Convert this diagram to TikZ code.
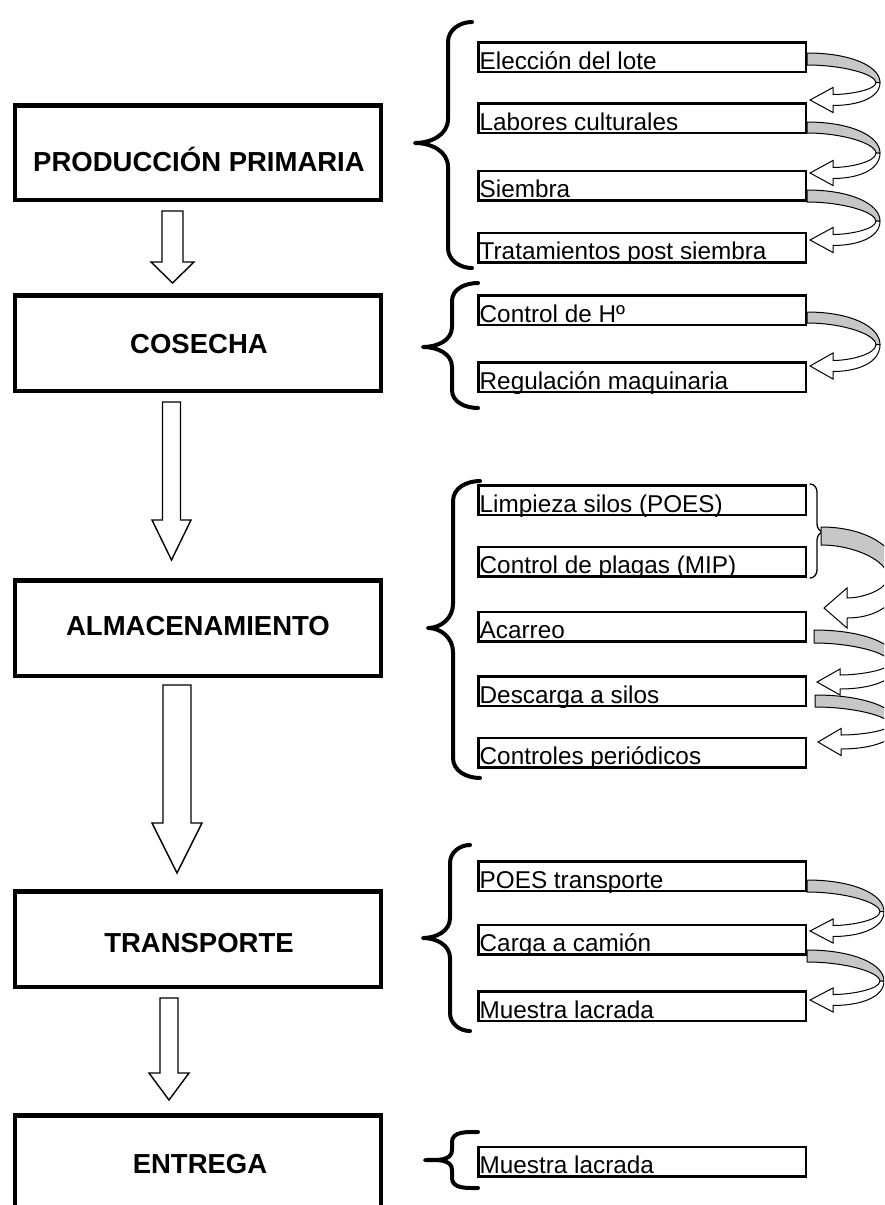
\documentclass[tikz,border=0pt]{standalone}
\usepackage{fontspec}
\setmainfont{Liberation Sans}
\tikzset{
  mainbox/.style={draw, line width=4.5pt, minimum width=366pt, inner sep=0pt},
  maintext/.style={anchor=base, inner sep=0pt, font=\fontsize{27.5}{33}\selectfont\bfseries},
  subbox/.style={draw, line width=2.5pt, minimum width=327.5pt, minimum height=29.5pt, inner sep=0pt},
  subtext/.style={anchor=base west, inner sep=0pt, font=\fontsize{24.3}{28}\selectfont},
  bracestyle/.style={line width=4pt, line cap=round, line join=round},
  thinbrace/.style={line width=1.3pt, line cap=round},
  blockarrow/.style={draw, fill=white, line width=1.4pt, line join=miter},
  ribbonback/.style={fill=black!22, draw=black, line width=1pt, line join=round},
  ribbonfront/.style={fill=white, draw=black, line width=1pt, line join=miter}
}
\newcommand\stepitem[3]{%
  \node[subbox] (#1) at (642,#2) {};
  \node[subtext] (#1t) at ([xshift=2.5pt,yshift=4pt]#1.south west) {#3};
}
\newcommand\blockarr[6]{% cx, ytop, ywing, ytip, shafthalf, headhalf
  \draw[blockarrow] ({#1-#5},#2) -- ({#1+#5},#2) -- ({#1+#5},#3) -- ({#1+#6},#3) -- (#1,#4) -- ({#1-#6},#3) -- ({#1-#5},#3) -- cycle;
}
% x0, ytop, ybot, xright, ytip, headhalf, shafthalf, turnwidth ; head length 23
\newcommand\curvarr[8]{%
  \pgfmathsetmacro\cvM{(#3+#5)/2}%
  \pgfmathsetmacro\cvT{#1+3}%
  \pgfmathsetmacro\cvH{#1+26}%
  \pgfmathsetmacro\cvI{#4-#8}%
  \filldraw[ribbonback] (#1,#2) .. controls ({#1+0.6*(#4-#1)},#2) and (#4,{#2+0.45*(\cvM-#2)}) .. (#4,\cvM)
     -- (\cvI,\cvM) .. controls ({\cvI-1},{#3+0.5*(\cvM-#3)}) and ({#1+0.5*(\cvI-#1)},#3) .. (#1,#3) -- cycle;
  \filldraw[ribbonfront] (\cvI,\cvM) .. controls (\cvI,{\cvM+0.6*(#5-#7-\cvM)}) and ({\cvH+0.4*(\cvI-\cvH)},{#5-#7}) .. (\cvH,{#5-#7})
     -- (\cvH,{#5-#6}) -- (\cvT,#5) -- (\cvH,{#5+#6}) -- (\cvH,{#5+#7})
     .. controls ({\cvH+0.5*(#4-\cvH)},{#5+#7}) and (#4,{\cvM+0.7*(#5+#7-\cvM)}) .. (#4,\cvM) -- cycle;
}
\newcommand\bigbrace[8]{% xe, ytop, ybot, xv, xtip, ymid, rend, rmid
  \draw[bracestyle] (#1,#2) to[out=180,in=90] (#4,{#2+#7}) -- (#4,{#6-#8}) to[out=-90,in=0] (#5,#6)
     to[out=0,in=90] (#4,{#6+#8}) -- (#4,{#3-#7}) to[out=-90,in=180] (#1,#3);
}
\begin{document}
\begin{tikzpicture}[x=1pt,y=-1pt]
\useasboundingbox (0,0) rectangle (884,1205);
\clip (0,0) rectangle (884,1205);
\fill[white] (0,0) rectangle (884,1205);

% main boxes
\node[mainbox, minimum height=94.5pt] (pp) at (198,152.5) {};
\node[maintext] (ppt) at (199,171) {PRODUCCIÓN PRIMARIA};
\node[mainbox, minimum height=95.5pt] (cos) at (198,343) {};
\node[maintext] (cost) at (199,353) {COSECHA};
\node[mainbox, minimum height=95.5pt] (alm) at (198,628) {};
\node[maintext] (almt) at (198,635) {ALMACENAMIENTO};
\node[mainbox, minimum height=95.5pt] (tra) at (198,939) {};
\node[maintext] (trat) at (199,952) {TRANSPORTE};
\node[mainbox, minimum height=115pt] (ent) at (198,1172.75) {};
\node[maintext] (entt) at (200,1173) {ENTREGA};

% block arrows between main boxes
\blockarr{172.5}{211}{262}{283}{10.5}{21.5}
\blockarr{171.5}{402}{520}{560}{9}{19.5}
\blockarr{177}{685}{823}{873}{14}{25}
\blockarr{169}{998}{1073}{1100}{9}{20}

% braces
\bigbrace{472}{22}{268}{448}{415}{143}{20}{24}
\bigbrace{478}{283}{408}{452}{423}{347}{18}{20}
\bigbrace{480}{481}{778}{453}{428}{628}{20}{24}
\bigbrace{470}{845}{1031}{450}{423}{938}{18}{20}
\bigbrace{478}{1132}{1188}{452}{425}{1160}{10}{10}

% sub boxes
\stepitem{a1}{57}{Elección del lote}
\stepitem{a2}{118}{Labores culturales}
\stepitem{a3}{185.5}{Siembra}
\stepitem{a4}{247.5}{Tratamientos post siembra}
\stepitem{c1}{310}{Control de Hº}
\stepitem{c2}{377}{Regulación maquinaria}
\stepitem{s1}{500}{Limpieza silos (POES)}
\stepitem{s2}{561.5}{Control de plagas (MIP)}
\stepitem{s3}{626.5}{Acarreo}
\stepitem{s4}{691}{Descarga a silos}
\stepitem{s5}{752.5}{Controles periódicos}
\stepitem{t1}{876}{POES transporte}
\stepitem{t2}{939.5}{Carga a camión}
\stepitem{t3}{1006}{Muestra lacrada}
\stepitem{e1}{1161.5}{Muestra lacrada}

% small right brace
\draw[thinbrace] (810,484) to[out=0,in=90] (817,492) -- (817,524) to[out=-90,in=180] (824,532)
   to[out=180,in=90] (817,540) -- (817,570) to[out=-90,in=0] (810,578);

% curved arrows
\curvarr{807}{53}{65}{880}{100}{12.5}{5.5}{4}
\curvarr{807}{122}{133}{880}{173}{12.5}{5.5}{4}
\curvarr{807}{190}{202}{880}{240}{12.5}{5.5}{4}
\curvarr{807}{312}{323}{880}{366}{13}{5.5}{4}
\curvarr{821}{527}{545}{900}{608}{20}{10}{12}
\curvarr{814}{630}{643}{898}{682}{13}{7}{8}
\curvarr{815}{695}{707}{898}{742}{13.5}{7}{8}
\curvarr{807}{880}{892}{884}{931}{12}{5.5}{4}
\curvarr{807}{950}{962}{884}{1000}{12}{5.5}{4}
\end{tikzpicture}
\end{document}
